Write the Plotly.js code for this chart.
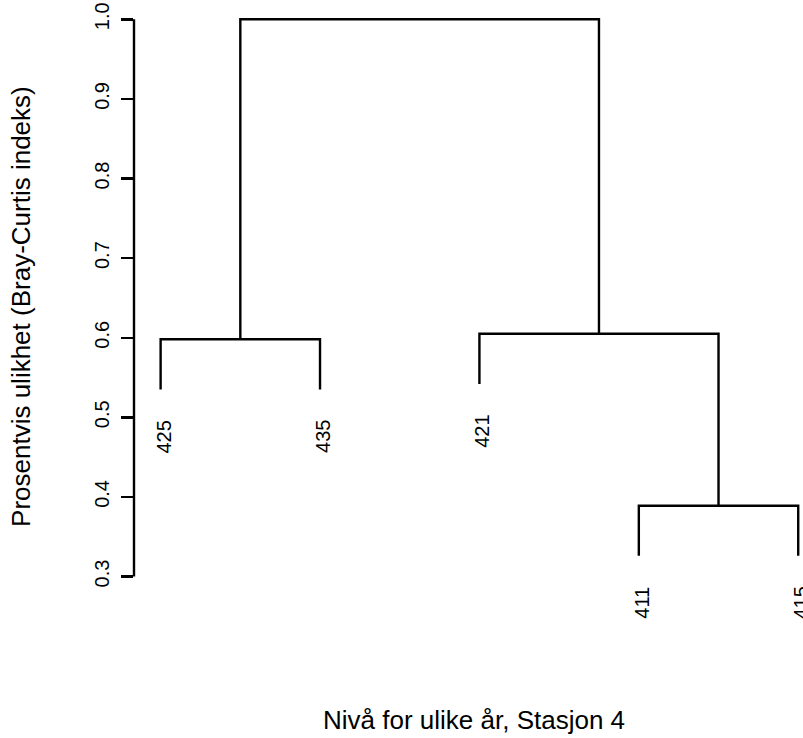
<!DOCTYPE html>
<html>
<head>
<meta charset="utf-8">
<script src="https://cdn.plot.ly/plotly-3.0.1.min.js"></script>
<style>html,body{margin:0;padding:0;background:#fff;}#chart{width:803px;height:738px;}</style>
</head>
<body>
<div id="chart"></div>
<script>
// Leaf labels in dendrogram order (positions 1..5)
const leafLabels = ['425', '435', '421', '411', '415'];
// Merge steps (R hclust style: negative = leaf index, positive = earlier merge step)
const mergeLeft  = [-4, -1, -3, 2];
const mergeRight = [-5, -2,  1, 3];
const mergeHeights = [0.389, 0.598, 0.605, 1.0];
const hang = 0.063;
// Y axis ticks
const yTickVals = [0.3, 0.4, 0.5, 0.6, 0.7, 0.8, 0.9, 1.0];
const yTickText = ['0.3', '0.4', '0.5', '0.6', '0.7', '0.8', '0.9', '1.0'];

const xTitle = 'Nivå for ulike år, Stasjon 4';
const yTitle = 'Prosentvis ulikhet (Bray-Curtis indeks)';

// Dendrogram layout
const nodeX = [], nodeY = [];
function childPos(c, parentH) {
  if (c < 0) {
    const i = -c;
    return {x: i, top: parentH - hang, leaf: i};
  }
  return {x: nodeX[c - 1], top: nodeY[c - 1]};
}
const segX = [], segY = [];
const leafEnds = {};
for (let k = 0; k < mergeHeights.length; k++) {
  const h = mergeHeights[k];
  const a = childPos(mergeLeft[k], h);
  const b = childPos(mergeRight[k], h);
  if (a.leaf) leafEnds[a.leaf] = a.top;
  if (b.leaf) leafEnds[b.leaf] = b.top;
  segX.push(a.x, a.x, b.x, b.x, null);
  segY.push(a.top, h, h, b.top, null);
  nodeX.push((a.x + b.x) / 2);
  nodeY.push(h);
}

const font = 'Liberation Sans, Arial, Helvetica, sans-serif';

const annotations = leafLabels.map((lab, i) => ({
  x: i + 1, y: leafEnds[i + 1], xref: 'x', yref: 'y',
  text: lab, showarrow: false, textangle: -90,
  xanchor: 'center', yanchor: 'top', yshift: -29, xshift: 3,
  font: {family: font, size: 20, color: '#000'}
}));
annotations.push({
  x: 0.508, y: -0.215, xref: 'paper', yref: 'paper',
  text: xTitle, showarrow: false, xanchor: 'center', yanchor: 'middle',
  font: {family: font, size: 26, color: '#000'}
});
annotations.push({
  x: -0.169, y: 0.4864, xref: 'paper', yref: 'paper',
  text: yTitle, showarrow: false, textangle: -90, xanchor: 'center', yanchor: 'middle',
  font: {family: font, size: 26, color: '#000'}
});

const trace = {
  x: segX, y: segY, type: 'scatter', mode: 'lines',
  line: {color: '#000', width: 2.4}, hoverinfo: 'skip', showlegend: false
};

const layout = {
  width: 803, height: 738,
  margin: {l: 134, r: 0, t: 3, b: 145, pad: 0},
  paper_bgcolor: '#fff', plot_bgcolor: '#fff',
  showlegend: false,
  xaxis: {range: [0.833, 5.03], visible: false, fixedrange: true},
  yaxis: {
    range: [0.2793, 1.0205], tickmode: 'array', tickvals: yTickVals, ticktext: yTickText,
    tickangle: -90, ticks: 'outside', ticklen: 12, tickwidth: 2.4, tickcolor: '#000',
    ticklabelstandoff: 4,
    showline: false, showgrid: false, zeroline: false,
    tickfont: {family: font, size: 20, color: '#000'}, fixedrange: true
  },
  shapes: [{
    type: 'line', xref: 'paper', yref: 'y', x0: 0, x1: 0, y0: yTickVals[0], y1: yTickVals[yTickVals.length - 1],
    line: {color: '#000', width: 2.4}
  }],
  annotations: annotations
};

Plotly.newPlot('chart', [trace], layout, {displayModeBar: false, staticPlot: true});
</script>
</body>
</html>
